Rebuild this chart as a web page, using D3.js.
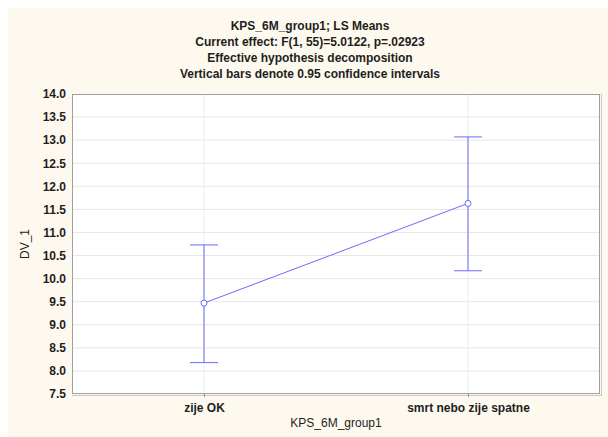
<!DOCTYPE html>
<html><head><meta charset="utf-8">
<script src="https://cdn.jsdelivr.net/npm/d3@7"></script>
<style>body{margin:0;background:#fff}svg{display:block}</style>
</head><body><svg id="c" width="608" height="437"></svg>
<script>
const categories = ["zije OK", "smrt nebo zije spatne"];
const means = [9.47, 11.63];
const ciLow = [8.18, 10.17];
const ciHigh = [10.73, 13.07];
const yTicks = [7.5, 8.0, 8.5, 9.0, 9.5, 10.0, 10.5, 11.0, 11.5, 12.0, 12.5, 13.0, 13.5, 14.0];
const titleLines = ["KPS_6M_group1; LS Means", "Current effect: F(1, 55)=5.0122, p=.02923", "Effective hypothesis decomposition", "Vertical bars denote 0.95 confidence intervals"];

const svg = d3.select("#c");
const font = "'Liberation Sans', Arial, sans-serif";
const ink = "#1e1e1e";
svg.append("rect").attr("x", 8).attr("y", 8).attr("width", 600).attr("height", 429).attr("fill", "#fdf9ee");

const L = 72, R = 600, T = 94, B = 394;
const x = d3.scalePoint().domain(categories).range([L, R]).padding(0.5);
const y = d3.scaleLinear().domain([7.5, 14]).range([B, T]);

svg.append("rect").attr("x", L).attr("y", T).attr("width", R - L).attr("height", B - T).attr("fill", "#fff");

// gridlines
svg.append("g").selectAll("line").data(yTicks.slice(1, -1)).join("line")
  .attr("x1", L).attr("x2", R).attr("y1", d => y(d)).attr("y2", d => y(d))
  .attr("stroke", "#e6e6e6").attr("stroke-width", 1);
svg.append("g").selectAll("line").data(categories).join("line")
  .attr("x1", d => x(d)).attr("x2", d => x(d)).attr("y1", T).attr("y2", B)
  .attr("stroke", "#ececec").attr("stroke-width", 1);

// frame
svg.append("rect").attr("x", L + 0.5).attr("y", T + 0.5).attr("width", R - L - 1).attr("height", B - T - 1)
  .attr("fill", "none").attr("stroke", "#a0a0a0");
svg.append("line").attr("x1", L).attr("x2", R + 1).attr("y1", B + 1.5).attr("y2", B + 1.5).attr("stroke", "#c8c8c8");
svg.append("line").attr("x1", R + 1.5).attr("x2", R + 1.5).attr("y1", T).attr("y2", B + 2).attr("stroke", "#c8c8c8");

// y axis
const ya = svg.append("g").attr("transform", `translate(${L},0)`)
  .call(d3.axisLeft(y).tickValues(yTicks).tickFormat(d3.format(".1f")).tickSize(0).tickPadding(6));
ya.select(".domain").remove();
ya.selectAll("text").attr("font-family", font).attr("font-size", 12).attr("font-weight", "bold").attr("fill", ink);

// x axis
const xa = svg.append("g").attr("transform", `translate(0,${B})`)
  .call(d3.axisBottom(x).tickSize(3).tickPadding(6));
xa.select(".domain").remove();
xa.selectAll("line").attr("stroke", "#999");
xa.selectAll("text").attr("font-family", font).attr("font-size", 12).attr("font-weight", "bold").attr("fill", ink);

// titles
svg.append("g").selectAll("text").data(titleLines).join("text")
  .attr("x", 310).attr("y", (d, i) => 29.5 + i * 16)
  .attr("text-anchor", "middle").attr("font-family", font).attr("font-size", 12).attr("font-weight", "bold")
  .attr("fill", ink).text(d => d);

svg.append("text").attr("x", (L + R) / 2).attr("y", 427).attr("text-anchor", "middle")
  .attr("font-family", font).attr("font-size", 12).attr("fill", ink).text("KPS_6M_group1");
svg.append("text").attr("transform", `translate(29,${(T + B) / 2}) rotate(-90)`).attr("text-anchor", "middle")
  .attr("font-family", font).attr("font-size", 12).attr("fill", ink).text("DV_1");

// error bars
const blue = "#6b6bff";
const g = svg.append("g");
categories.forEach((c, i) => {
  g.append("line").attr("x1", x(c)).attr("x2", x(c)).attr("y1", y(ciLow[i])).attr("y2", y(ciHigh[i])).attr("stroke", blue);
  [ciLow[i], ciHigh[i]].forEach(v => {
    g.append("line").attr("x1", x(c) - 14).attr("x2", x(c) + 14).attr("y1", y(v)).attr("y2", y(v)).attr("stroke", blue);
  });
});
const line = d3.line().x((d, i) => x(categories[i])).y(d => y(d));
g.append("path").datum(means).attr("d", line).attr("fill", "none").attr("stroke", blue);
g.selectAll("circle").data(means).join("circle")
  .attr("cx", (d, i) => x(categories[i])).attr("cy", d => y(d)).attr("r", 3)
  .attr("fill", "#fff").attr("stroke", blue);
</script></body></html>
